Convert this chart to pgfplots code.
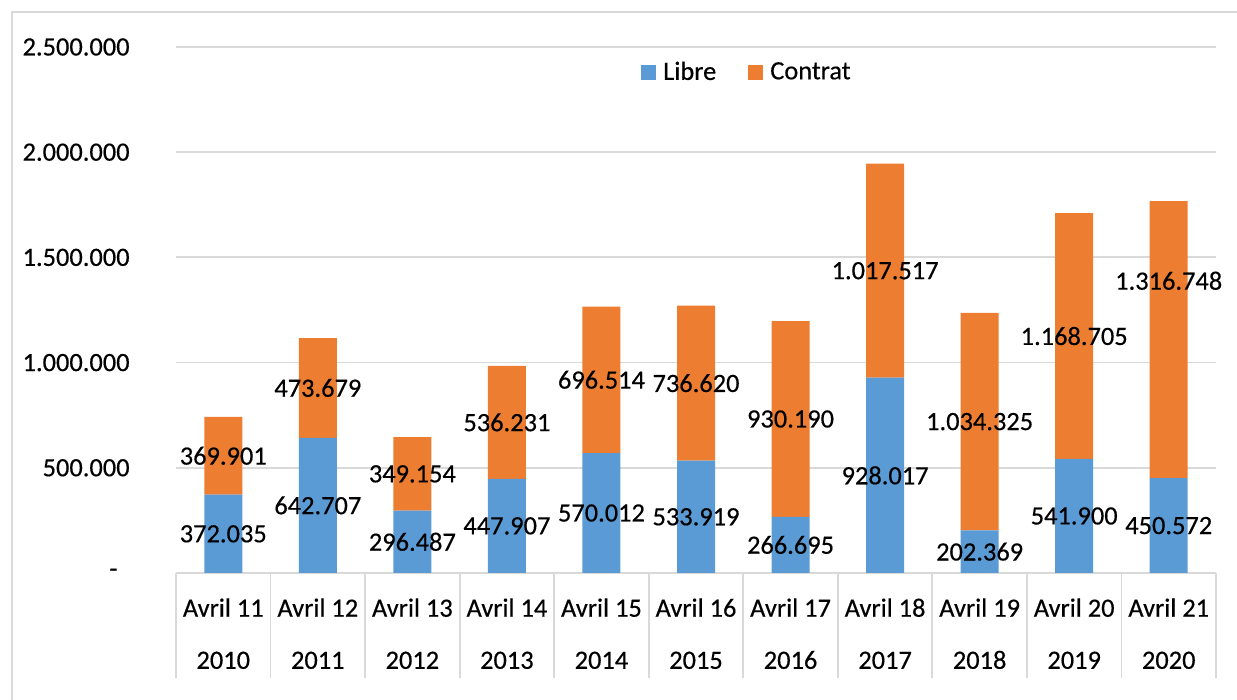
\documentclass[border=0pt]{standalone}
\usepackage{pgfplots}
\pgfplotsset{compat=1.18}
\usepackage{pgfplotstable}
\usepackage{fontspec}
\setmainfont{Carlito}[FakeBold=0.4]
\definecolor{cLibre}{HTML}{5B9BD5}
\definecolor{cContrat}{HTML}{ED7D31}
\definecolor{gridc}{HTML}{D9D9D9}

\pgfplotstableread{
x L C off
0 372035 369901 0
1 642707 473679 0
2 296487 349154 0
3 447907 536231 0
4 570012 696514 0
5 533919 736620 0
6 266695 930190 0
7 928017 1017517 0
8 202369 1034325 0
9 541900 1168705 0
10 450572 1316748 280000
}\data

\begin{document}
\begin{tikzpicture}[font=\fontsize{13.2}{15.84}\selectfont]
\path[use as bounding box] (0,0) rectangle (618.5pt,350pt);
\draw[gridc, line width=1pt] (6pt,-20pt) -- (6pt,344pt) -- (700pt,344pt);
\pgfplotsset{base/.style={at={(88pt,63.5pt)}, anchor=south west, scale only axis,
  width=520pt, height=263pt, xmin=-0.5, xmax=10.5, ymin=0, ymax=2500000}}
\begin{axis}[base, ybar stacked, bar width=19pt,
  axis line style={draw=none},
  ymajorgrids, grid style={gridc, line width=0.9pt},
  scaled y ticks=false,
  ytick={0,500000,1000000,1500000,2000000,2500000},
  yticklabels={{-\hspace*{6pt}},500.000,1.000.000,1.500.000,2.000.000,2.500.000},
  yticklabel style={anchor=east, inner sep=0pt, xshift=-23pt},
  ytick style={draw=none},
  xtick={-0.5,0.5,1.5,2.5,3.5,4.5,5.5,6.5,7.5,8.5,9.5,10.5},
  xticklabels={},
  xtick pos=left,
  x tick style={draw=gridc, line width=0.9pt},
  xtick align=outside,
  major tick length=52.5pt,
  extra x ticks={0,1,2,3,4,5,6,7,8,9,10},
  extra x tick labels={{Avril 11\\[10.2pt]2010},{Avril 12\\[10.2pt]2011},{Avril 13\\[10.2pt]2012},
    {Avril 14\\[10.2pt]2013},{Avril 15\\[10.2pt]2014},{Avril 16\\[10.2pt]2015},
    {Avril 17\\[10.2pt]2016},{Avril 18\\[10.2pt]2017},{Avril 19\\[10.2pt]2018},
    {Avril 20\\[10.2pt]2019},{Avril 21\\[10.2pt]2020}},
  extra x tick style={tick align=inside, major tick length=0pt,
    tick style={draw=none}, grid=none,
    xticklabel style={anchor=north, align=center, inner sep=0pt, yshift=-12.5pt}},
  legend style={at={(0.549,0.952)}, anchor=center, draw=none, fill=none,
    legend columns=2, column sep=0pt, nodes={inner sep=1pt, text=black},
    /tikz/every even column/.append style={column sep=15pt}},
]
\addplot[fill=cLibre, draw=none,
  legend image code/.code={\fill[cLibre] (0pt,-3.75pt) rectangle (7.5pt,3.75pt);}]
  table[x=x,y=L]{\data};
\addplot[fill=cContrat, draw=none,
  legend image code/.code={\fill[cContrat] (0pt,-3.75pt) rectangle (7.5pt,3.75pt);}]
  table[x=x,y=C]{\data};
\legend{\hspace*{2.5pt}Libre, \hspace*{2.5pt}Contrat}
\end{axis}
\begin{axis}[base, hide axis, clip=false]
\addplot[draw=none, mark=none, point meta=explicit,
  nodes near coords={\pgfmathprintnumber[fixed, precision=0, 1000 sep={.}, assume math mode=true]{\pgfplotspointmeta}},
  every node near coord/.style={anchor=center, inner sep=0pt, text=black}]
  table[x=x, y expr=\thisrow{L}/2, meta=L]{\data};
\addplot[draw=none, mark=none, point meta=explicit,
  nodes near coords={\pgfmathprintnumber[fixed, precision=0, 1000 sep={.}, assume math mode=true]{\pgfplotspointmeta}},
  every node near coord/.style={anchor=center, inner sep=0pt, text=black}]
  table[x=x, y expr=\thisrow{L}+\thisrow{C}/2+\thisrow{off}, meta=C]{\data};
\end{axis}
\end{tikzpicture}
\end{document}
